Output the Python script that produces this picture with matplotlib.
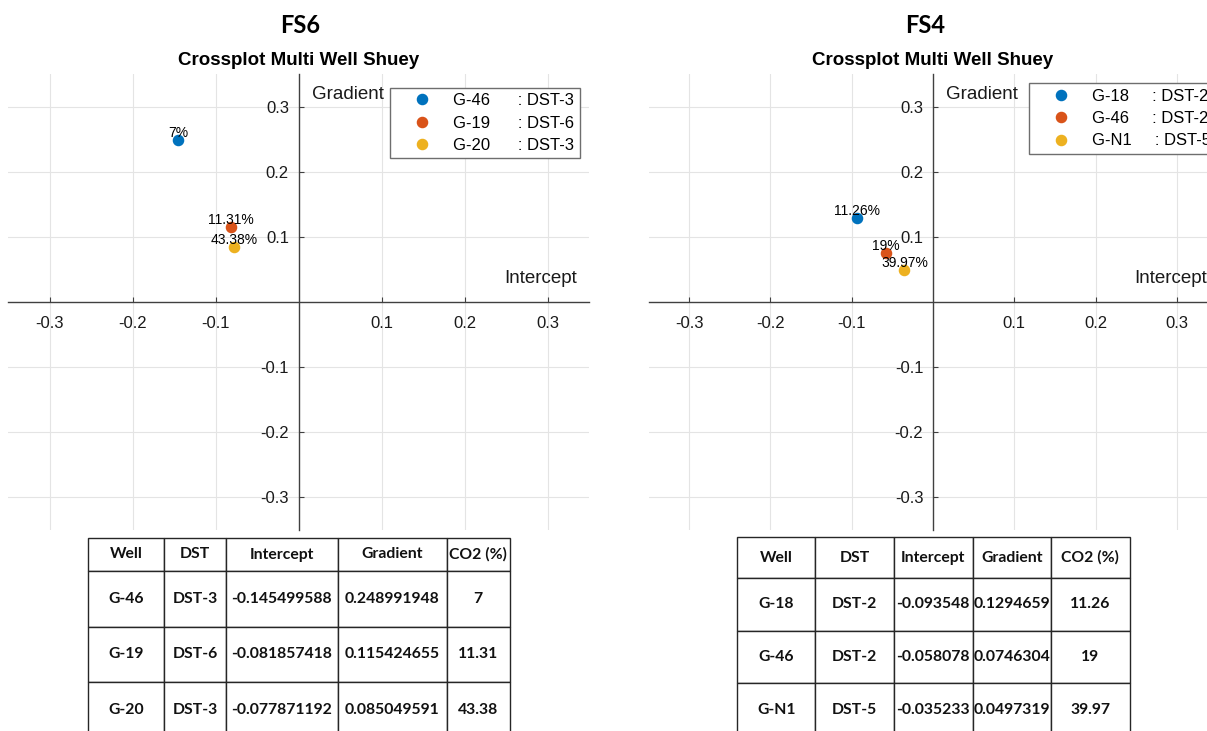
import matplotlib.pyplot as plt

plt.rcParams['font.family'] = ['Liberation Sans', 'DejaVu Sans']
plt.rcParams['axes.unicode_minus'] = False

# FS6 wells
fs6_wells = ['G-46', 'G-19', 'G-20']
fs6_dst = ['DST-3', 'DST-6', 'DST-3']
fs6_intercept = [-0.145499588, -0.081857418, -0.077871192]
fs6_gradient = [0.248991948, 0.115424655, 0.085049591]
fs6_co2 = [7, 11.31, 43.38]

# FS4 wells
fs4_wells = ['G-18', 'G-46', 'G-N1']
fs4_dst = ['DST-2', 'DST-2', 'DST-5']
fs4_intercept = [-0.093548, -0.058078, -0.035233]
fs4_gradient = [0.1294659, 0.0746304, 0.0497319]
fs4_co2 = [11.26, 19, 39.97]

table_header = ['Well', 'DST', 'Intercept', 'Gradient', 'CO2 (%)']
ticks = [-0.3, -0.2, -0.1, 0.1, 0.2, 0.3]
colors = ['#0072BD', '#D95319', '#EDB120']

W, H = 1207, 731
fig = plt.figure(figsize=(W / 100, H / 100), dpi=100)


def px_rect(x0, y0, x1, y1):
    # pixel box (top-left origin) -> figure fraction rect
    return [x0 / W, 1 - y1 / H, (x1 - x0) / W, (y1 - y0) / H]


def crossplot(box, wells, dsts, x, y, co2, gap, legend_xy):
    ax = fig.add_axes(px_rect(*box))
    for i in range(len(wells)):
        ax.plot(x[i], y[i], 'o', ms=7.3, color=colors[i],
                label=f'{wells[i]}{gap}: {dsts[i]}')
        ax.text(x[i], y[i], f'{co2[i]:g}%', ha='center', va='bottom', fontsize=10)

    ax.set_xlim(-0.35, 0.35)
    ax.set_ylim(-0.35, 0.35)
    ax.set_xticks(ticks)
    ax.set_yticks(ticks)
    ax.set_xticklabels([f'{t:g}' for t in ticks])
    ax.set_yticklabels([f'{t:g}' for t in ticks])

    # axes crossing at the origin
    for side in ['left', 'bottom']:
        ax.spines[side].set_position('zero')
        ax.spines[side].set_color('#404040')
        ax.spines[side].set_linewidth(1.0)
    ax.spines['top'].set_visible(False)
    ax.spines['right'].set_visible(False)
    ax.tick_params(direction='in', length=3.5, width=0.8, color='#404040',
                   labelsize=12, labelcolor='#1a1a1a')
    ax.tick_params(axis='x', pad=10)
    ax.tick_params(axis='y', pad=7)
    ax.grid(True, color='#e4e4e4', lw=0.8)
    ax.set_axisbelow(True)

    ax.text(0.016, 0.319, 'Gradient', fontsize=13.5, va='center', ha='left', color='#1a1a1a')
    ax.text(0.248, 0.036, 'Intercept', fontsize=13.5, va='center', ha='left', color='#1a1a1a')
    ax.set_title('Crossplot Multi Well Shuey', fontsize=13.5, fontweight='bold', pad=6.5)

    leg = ax.legend(loc='upper left', bbox_to_anchor=(legend_xy[0] / W, 1 - legend_xy[1] / H),
                    bbox_transform=fig.transFigure, borderaxespad=0, fontsize=12,
                    fancybox=False, framealpha=1, edgecolor='#6e6e6e', borderpad=0.33,
                    handlelength=3.14, handletextpad=0.31, labelspacing=0.44, numpoints=1)
    leg.get_frame().set_linewidth(1.0)
    return ax


def well_table(box, wells, dsts, x, y, co2, col_px, row_px):
    tax = fig.add_axes(px_rect(*box))
    tax.axis('off')
    rows = [[w, d, str(a), str(b), f'{c:g}'] for w, d, a, b, c in zip(wells, dsts, x, y, co2)]
    tbl = tax.table(cellText=rows, colLabels=table_header, cellLoc='center', bbox=[0, 0, 1, 1])
    tbl.auto_set_font_size(False)
    for (r, c), cell in tbl.get_celld().items():
        cell.set_width(col_px[c])
        cell.set_height(row_px[r])
        cell.set_edgecolor('#262626')
        cell.set_linewidth(1.0)
        cell.get_text().set(fontfamily='Lato', fontweight='bold', fontsize=11.3, color='#111111')
    return tbl


# FS6 panel
fig.text(300 / W, 1 - 33.3 / H, 'FS6', ha='center', va='baseline',
         fontsize=17, fontweight='bold', family='Lato')
crossplot((8.3, 74, 589, 530), fs6_wells, fs6_dst, fs6_intercept, fs6_gradient,
          fs6_co2, '      ', (390, 87.7))
well_table((88.3, 538, 509.5, 738), fs6_wells, fs6_dst, fs6_intercept, fs6_gradient,
           fs6_co2, [76, 61.7, 111.7, 109, 62.8], [33, 55.5, 55.5, 56])

# FS4 panel (right side runs past the edge)
fig.text(925 / W, 1 - 33.3 / H, 'FS4', ha='center', va='baseline',
         fontsize=17, fontweight='bold', family='Lato')
crossplot((648.5, 74, 1217.6, 530), fs4_wells, fs4_dst, fs4_intercept, fs4_gradient,
          fs4_co2, '     ', (1029, 83.3))
well_table((737, 537.3, 1129.7, 736), fs4_wells, fs4_dst, fs4_intercept, fs4_gradient,
           fs4_co2, [78.3, 78.4, 79, 78.3, 78.7], [40.7, 52.7, 52.6, 52.7])

fig.savefig('out.png', dpi=100)
